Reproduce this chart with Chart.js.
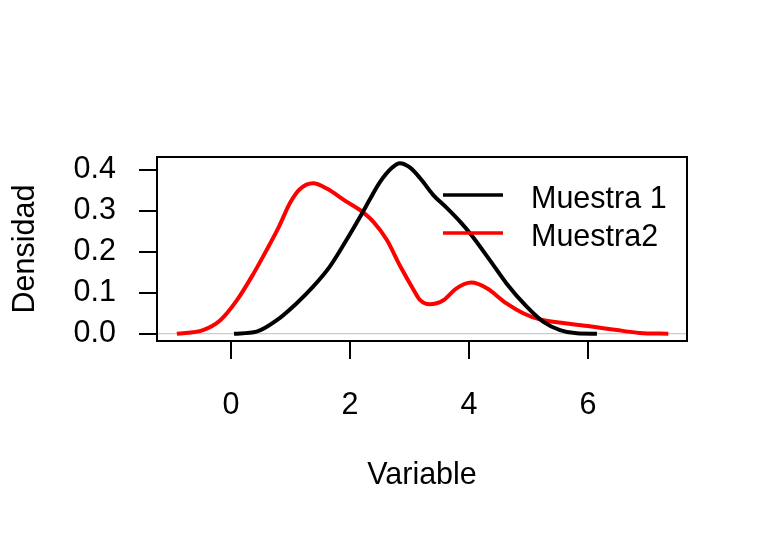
<!DOCTYPE html>
<html>
<head>
<meta charset="utf-8">
<script src="https://cdn.jsdelivr.net/npm/chart.js@4.4.1/dist/chart.umd.min.js"></script>
<style>
  html, body { margin: 0; padding: 0; background: #fff; }
  #wrap { width: 768px; height: 537px; }
</style>
</head>
<body>
<div id="wrap"><canvas id="densidad" width="768" height="537"></canvas></div>
<script>
// density estimates
const muestra1X = [0.05, 0.43, 0.77, 1.10, 1.38, 1.66, 1.94, 2.17, 2.34, 2.50, 2.70, 2.84, 3.00, 3.18, 3.40, 3.63, 3.85, 4.02, 4.35, 4.63, 4.97, 5.25, 5.53, 5.81, 6.15];
const muestra1Y = [0, 0.005, 0.033, 0.074, 0.115, 0.164, 0.229, 0.286, 0.330, 0.370, 0.405, 0.417, 0.407, 0.380, 0.339, 0.307, 0.274, 0.245, 0.180, 0.123, 0.066, 0.029, 0.009, 0.001, 0];

const muestra2X = [-0.91, -0.47, -0.18, 0.10, 0.37, 0.60, 0.80, 1.00, 1.16, 1.38, 1.61, 1.94, 2.17, 2.39, 2.62, 2.84, 3.07, 3.18, 3.34, 3.57, 3.79, 4.04, 4.30, 4.63, 4.91, 5.19, 5.64, 6.09, 6.48, 6.87, 7.35];
const muestra2Y = [0, 0.009, 0.033, 0.082, 0.145, 0.205, 0.260, 0.322, 0.354, 0.368, 0.355, 0.323, 0.302, 0.274, 0.229, 0.166, 0.107, 0.082, 0.072, 0.082, 0.111, 0.125, 0.111, 0.074, 0.050, 0.035, 0.025, 0.017, 0.009, 0.002, 0];

const seriesNames = ["Muestra 1", "Muestra2"];
const xTicks = [0, 2, 4, 6];
const yTicks = [0, 0.1, 0.2, 0.3, 0.4];
const xRange = [-1.244, 7.664];
const yRange = [-0.0178, 0.432];

const FONT = "'Liberation Sans', Arial, sans-serif";
const toPoints = (xs, ys) => xs.map((x, i) => ({ x: x, y: ys[i] }));

// box around the plot region + R style legend
const boxAndLegend = {
  id: "boxAndLegend",
  afterDatasetsDraw(chart) {
    const ctx = chart.ctx;
    const a = chart.chartArea;
    ctx.save();
    ctx.strokeStyle = "#000";
    ctx.lineWidth = 2;
    ctx.strokeRect(a.left, a.top, a.right - a.left, a.bottom - a.top);

    const rows = [208, 246];
    chart.data.datasets.slice(0, 2).forEach((ds, i) => {
      ctx.strokeStyle = ds.borderColor;
      ctx.lineWidth = 3.5;
      ctx.beginPath();
      ctx.moveTo(443, rows[i] - 13);
      ctx.lineTo(503, rows[i] - 13);
      ctx.stroke();
      ctx.fillStyle = "#000";
      ctx.font = "30.5px " + FONT;
      ctx.textBaseline = "alphabetic";
      ctx.textAlign = "left";
      ctx.fillText(ds.label, 531, rows[i]);
    });
    ctx.restore();
  }
};

new Chart(document.getElementById("densidad"), {
  type: "line",
  data: {
    datasets: [
      {
        label: seriesNames[0],
        data: toPoints(muestra1X, muestra1Y),
        borderColor: "#000000",
        borderWidth: 4,
        pointRadius: 0,
        cubicInterpolationMode: "monotone",
        fill: false
      },
      {
        label: seriesNames[1],
        data: toPoints(muestra2X, muestra2Y),
        borderColor: "#FF0000",
        borderWidth: 4,
        pointRadius: 0,
        cubicInterpolationMode: "monotone",
        fill: false
      },
      {
        label: "cero",
        data: [{ x: xRange[0], y: 0 }, { x: xRange[1], y: 0 }],
        borderColor: "#BEBEBE",
        borderWidth: 1,
        pointRadius: 0,
        order: 5
      }
    ]
  },
  options: {
    responsive: false,
    animation: false,
    layout: { padding: { left: 0, top: 157, right: 81, bottom: 0 } },
    plugins: {
      legend: { display: false },
      tooltip: { enabled: false }
    },
    scales: {
      x: {
        type: "linear",
        min: xRange[0],
        max: xRange[1],
        afterBuildTicks: (scale) => { scale.ticks = xTicks.map(v => ({ value: v })); },
        afterFit: (scale) => { scale.height = 196; },
        grid: { drawOnChartArea: false, drawTicks: true, tickLength: 18, color: "#000", lineWidth: 2 },
        border: { display: false },
        ticks: {
          autoSkip: false, maxRotation: 0, padding: 28,
          color: "#000", font: { family: FONT, size: 30.5 }
        },
        title: {
          display: true, text: "Variable", color: "#000",
          font: { family: FONT, size: 30.5 }, padding: { top: 0, bottom: 43 }
        }
      },
      y: {
        type: "linear",
        min: yRange[0],
        max: yRange[1],
        afterBuildTicks: (scale) => { scale.ticks = yTicks.map(v => ({ value: v })); },
        afterFit: (scale) => { scale.width = 157; },
        grid: { drawOnChartArea: false, drawTicks: true, tickLength: 18, color: "#000", lineWidth: 2 },
        border: { display: false },
        ticks: {
          autoSkip: false, padding: 23,
          color: "#000", font: { family: FONT, size: 30.5 },
          callback: (v) => v.toFixed(1)
        },
        title: {
          display: true, text: "Densidad", color: "#000",
          font: { family: FONT, size: 30.5 }, padding: { top: 7, bottom: 0 }
        }
      }
    }
  },
  plugins: [boxAndLegend]
});
</script>
</body>
</html>
